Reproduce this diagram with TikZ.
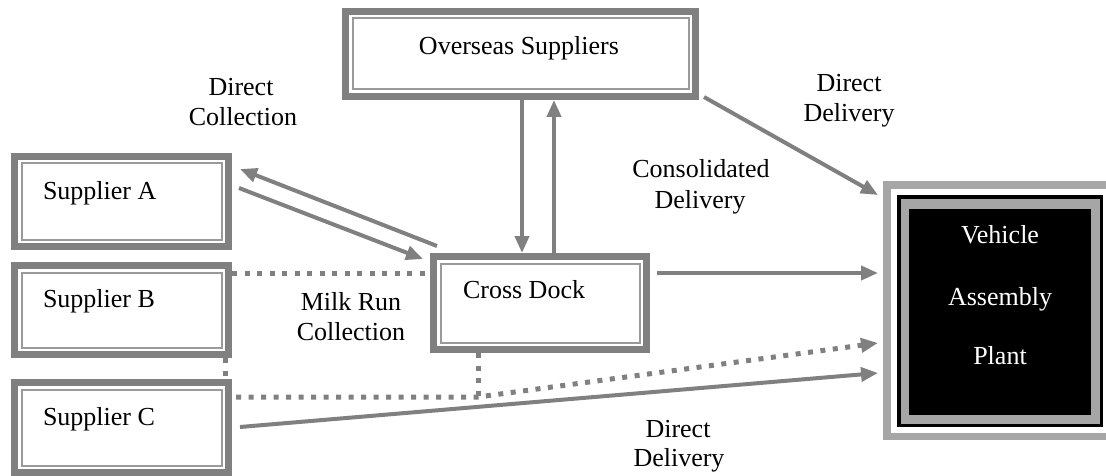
\documentclass[tikz,border=0pt]{standalone}
\usepackage{fontspec}
\setmainfont{Liberation Serif}
\usetikzlibrary{arrows.meta}
\definecolor{bandgray}{HTML}{808080}
\definecolor{thingray}{HTML}{9A9A9A}
\definecolor{lightband}{HTML}{A6A6A6}
\begin{document}
\begin{tikzpicture}[x=1pt,y=-1pt,
  boxshape/.style={rectangle, inner sep=0pt, outer sep=0pt},
  band/.style={draw=bandgray, line width=7pt},
  thinframe/.style={draw=thingray, line width=2pt},
  txt/.style={inner sep=0pt, outer sep=0pt, font=\fontsize{26pt}{30pt}\selectfont, text=black},
  arr/.style={draw=bandgray, line width=4pt, -{Triangle[length=17pt,width=14pt]}},
  dots/.style={draw=bandgray, line width=5pt, dash pattern=on 5pt off 7.5pt},
]
\useasboundingbox (0,0) rectangle (1106,476);

% boxes
\node[boxshape, minimum width=357pt, minimum height=92pt] (OS) at (520.5,54) {};
\node[boxshape, minimum width=221pt, minimum height=97pt] (SA) at (121.5,201.5) {};
\node[boxshape, minimum width=221pt, minimum height=96pt] (SB) at (121.5,310) {};
\node[boxshape, minimum width=221pt, minimum height=97pt] (SC) at (121.5,427.5) {};
\node[boxshape, minimum width=220pt, minimum height=100pt] (CD) at (540,303) {};
\node[boxshape, minimum width=234pt, minimum height=259pt] (VAP) at (1000,310.5) {};

\foreach \nm in {OS,SA,SB,SC,CD}{
  \draw[band] ([shift={(3.5pt,-3.5pt)}]\nm.north west) rectangle ([shift={(-3.5pt,3.5pt)}]\nm.south east);
  \draw[thinframe] ([shift={(10.5pt,-10.5pt)}]\nm.north west) rectangle ([shift={(-10.5pt,10.5pt)}]\nm.south east);
}

% vehicle assembly plant frame
\draw[draw=lightband, line width=7.5pt] ([shift={(3.75pt,-3.75pt)}]VAP.north west) rectangle ([shift={(-3.75pt,3.75pt)}]VAP.south east);
\fill[black] ([shift={(14pt,-14pt)}]VAP.north west) rectangle ([shift={(-14pt,13pt)}]VAP.south east);
\fill[lightband] ([shift={(17.5pt,-17.5pt)}]VAP.north west) rectangle ([shift={(-17.5pt,16.5pt)}]VAP.south east);
\fill[black] ([shift={(26pt,-28pt)}]VAP.north west) rectangle ([shift={(-26pt,25pt)}]VAP.south east);

% box texts
\node[txt, anchor=base] (tOS) at (519,55) {Overseas Suppliers};
\node[txt, anchor=base west] (tSA) at (43,199) {Supplier A};
\node[txt, anchor=base west] (tSB) at (43,307) {Supplier B};
\node[txt, anchor=base west] (tSC) at (43,425) {Supplier C};
\node[txt, anchor=base west] (tCD) at (463,298) {Cross Dock};
\node[txt, anchor=base, text=white] (tV1) at (1000,243) {Vehicle};
\node[txt, anchor=base, text=white] (tV2) at (1000,305) {Assembly};
\node[txt, anchor=base, text=white] (tV3) at (1000,364) {Plant};

% labels
\node[txt, anchor=base] (lDC1) at (241,96) {Direct};
\node[txt, anchor=base] (lDC2) at (243,126) {Collection};
\node[txt, anchor=base] (lDD1) at (849,92) {Direct};
\node[txt, anchor=base] (lDD2) at (849,122) {Delivery};
\node[txt, anchor=base] (lCD1) at (701,178) {Consolidated};
\node[txt, anchor=base] (lCD2) at (700,208) {Delivery};
\node[txt, anchor=base] (lMR1) at (351,310) {Milk Run};
\node[txt, anchor=base] (lMR2) at (351,340) {Collection};
\node[txt, anchor=base] (lBD1) at (678,437) {Direct};
\node[txt, anchor=base] (lBD2) at (679,466) {Delivery};

% connector end points
\coordinate (osd) at ([xshift=1.5pt]OS.south);
\coordinate (osu) at ([xshift=33.5pt]OS.south);
\coordinate (cdv) at ([shift={(7pt,-20pt)}]CD.north east);
\coordinate (mB) at ([yshift=-11pt]SB.north east);
\coordinate (mC) at ([shift={(4pt,-18pt)}]SC.north east);
\coordinate (cdb) at ([xshift=48pt]CD.south west);
\coordinate (jn) at (cdb |- mC);

% solid connectors
\draw[arr] (osd) -- (osd |- CD.north);
\draw[arr] (osu |- CD.north) -- (osu);
\draw[arr] ([shift={(5pt,3pt)}]OS.south east) -- ([shift={(-5pt,-14pt)}]VAP.north west);
\draw[arr] ([shift={(7pt,7pt)}]CD.north west) -- ([shift={(8pt,-16pt)}]SA.north east);
\draw[arr] ([shift={(7pt,-35pt)}]SA.north east) -- ([shift={(-7pt,-6pt)}]CD.north west);
\draw[arr] (cdv) -- ([xshift=-5pt]VAP.west |- cdv);
\draw[arr] ([shift={(8pt,-48pt)}]SC.north east) -- ([shift={(-5pt,-62.5pt)}]VAP.west);

% dotted connectors
\draw[dots] (mB) -- (mB -| CD.west);
\draw[dots] ([xshift=-7pt]SB.south east) -- ([xshift=-7pt]SC.north east);
\draw[dots] (cdb) -- (jn);
\draw[dots, -{Triangle[length=17pt,width=14pt]}] (mC) -- (jn) -- ([shift={(-5pt,-32.5pt)}]VAP.west);
\end{tikzpicture}
\end{document}
